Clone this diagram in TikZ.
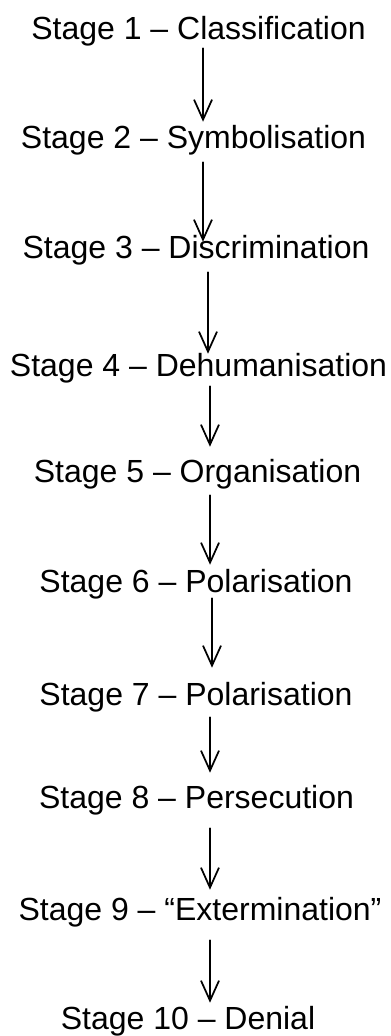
\documentclass[tikz,border=0pt]{standalone}
\usepackage{fontspec}
\setmainfont{Liberation Sans}
\usetikzlibrary{arrows.meta}
\tikzset{
  stage/.style={font=\fontsize{24}{28}\selectfont, anchor=base, inner sep=0pt,
    text height=17.25pt, text depth=5.25pt},
  flow/.style={draw=black, line width=1.3pt, line cap=round,
    -{Straight Barb[length=15pt, width=13.5pt, line width=1.3pt]}}
}
\begin{document}
\begin{tikzpicture}[x=0.75pt, y=-0.75pt]
            \useasboundingbox (0,0) rectangle (390,1036);
            \foreach \n/\x/\y/\t in {1/198.5/39/Classification, 2/193.5/148/Symbolisation,
                3/196/258/Discrimination, 4/198.5/376/Dehumanisation, 5/197.5/482/Organisation,
                6/196/592/Polarisation, 7/196/705/Polarisation, 8/196.5/808/Persecution,
                9/200/920/“Extermination”, 10/188/1029/Denial}
                \node [stage] (s\n) at (\x,\y) {Stage \n\ \textendash\ \t};
            % arrows: from/to/xshift/gap at start/gap at end (pt)
            \foreach \i/\j/\d/\a/\b in {1/2/3.4/1.5/2.25, 2/3/7.1/5.25/-5.25, 3/4/9/5.25/-0.75,
                4/5/8.6/2.25/9, 5/6/9.4/4.5/3, 6/7/12/-0.75/10.5, 7/8/10.5/3.75/9,
                8/9/10.1/9.75/5.25, 9/10/7.5/9.75/2.25}
                \draw [flow, shorten <=\a pt, shorten >=\b pt]
                    ([xshift=\d pt]s\i.south) -- ([xshift=\d pt]s\i.south |- s\j.north);
\end{tikzpicture}
\end{document}
